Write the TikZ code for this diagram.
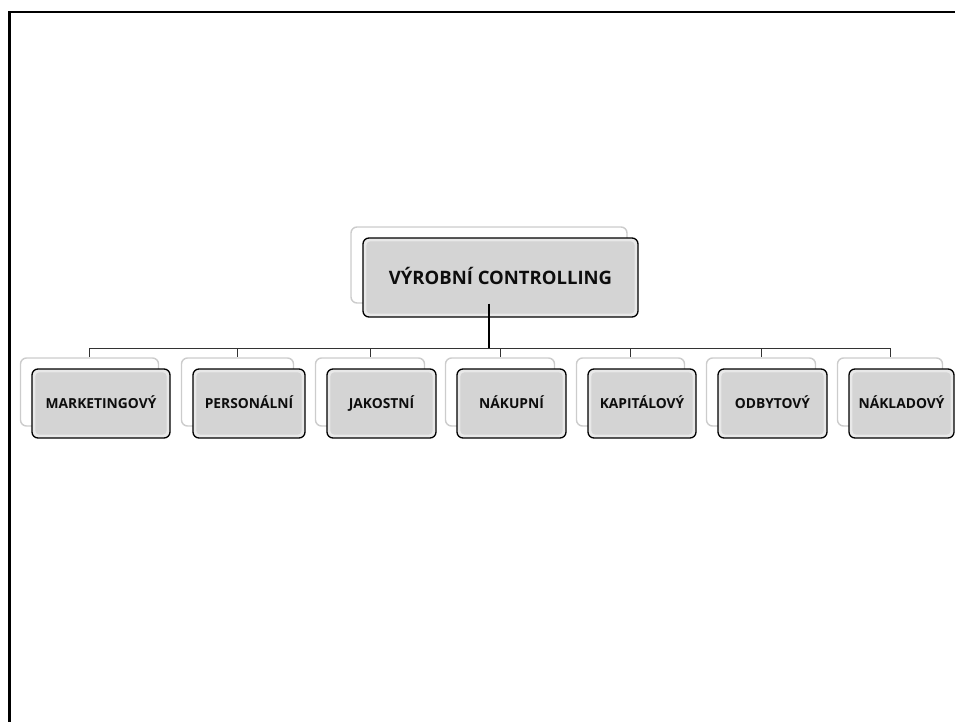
\documentclass[tikz,border=0pt]{standalone}
\usepackage{fontspec}
\setmainfont{Open Sans}
\begin{document}
\begin{tikzpicture}[x=1pt,y=-1pt,
  backbox/.style={draw=black!20,line width=1.4pt,fill=white,rounded corners=6pt,inner sep=0pt},
  frontbox/.style={draw=black,line width=1.3pt,fill=black!9,rounded corners=6pt,inner sep=0pt},
  innerbevel/.style={fill=black!17,rounded corners=4pt},
  lbl/.style={font=\bfseries\fontsize{13.8}{15}\selectfont,text=black!95,
              text height=10pt,text depth=0pt,inner sep=0pt},
  toplbl/.style={font=\bfseries\fontsize{18.5}{21}\selectfont,text=black!95,
              text height=13.5pt,text depth=0pt,inner sep=0pt},
  link/.style={draw=black!80,line width=0.9pt},
  trunk/.style={draw=black,line width=1.8pt}]
\useasboundingbox (0,0) rectangle (955,722);
% page frame
\draw[line width=2.6pt] (9.5,760) -- (9.5,12) -- (990,12);

% root
\node[backbox,minimum width=276pt,minimum height=76pt] (rootback) at (489,265) {};
\node[frontbox,minimum width=275pt,minimum height=79pt] (root) at (500.5,277.5) {};
\fill[innerbevel] ([shift={(4,4)}]root.north west) rectangle ([shift={(-4,-4)}]root.south east);
\node[toplbl] (roottxt) at (root.center) {VÝROBNÍ CONTROLLING};

% children: name / front left / front right / label
\foreach \n/\l/\r/\t in {c1/32/170/MARKETINGOVÝ, c2/193/305/PERSONÁLNÍ, c3/327/436/JAKOSTNÍ,
                         c4/457/566/NÁKUPNÍ, c5/588/696/KAPITÁLOVÝ, c6/718/827/ODBYTOVÝ,
                         c7/849/954/NÁKLADOVÝ}{
  \pgfmathsetmacro{\w}{\r-\l}
  \pgfmathsetmacro{\cx}{(\l+\r)/2}
  \node[backbox,minimum width=\w pt,minimum height=68pt] (\n b) at (\cx-11.5,392) {};
  \node[frontbox,minimum width=\w pt,minimum height=69pt] (\n) at (\cx,403.5) {};
  \fill[innerbevel] ([shift={(4,4)}]\n.north west) rectangle ([shift={(-4,-4)}]\n.south east);
  \node[lbl] (\n t) at (\n.center) {\t};
}

% connectors
\coordinate (bus) at (rootback.south |- 0,348);
\foreach \n in {c1,c2,c3,c4,c5,c6,c7}{
  \draw[link] (bus) -| (\n b.north);
}
\draw[trunk] (rootback.south) -- (bus);
\end{tikzpicture}
\end{document}
